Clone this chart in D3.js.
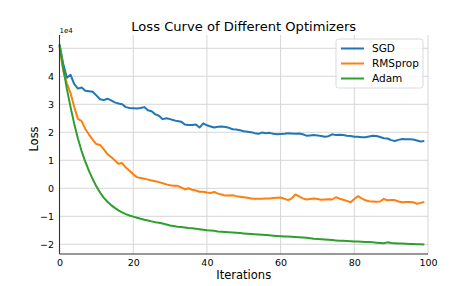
<!DOCTYPE html>
<html>
<head>
<meta charset="utf-8">
<script src="https://cdn.jsdelivr.net/npm/d3@7"></script>
<style>
  body { margin: 0; background: #fff; }
  svg text { font-family: "DejaVu Sans", sans-serif; fill: #000; }
</style>
</head>
<body>
<div id="chart"></div>
<script>
// loss values in units of 1e4, one per iteration (0..99)
let iterations = d3.range(0, 100)
let sgd = [5.15,4.45,3.95,4.05,3.72,3.56,3.60,3.48,3.47,3.45,
  3.32,3.18,3.15,3.20,3.14,3.07,3.03,3.00,2.90,2.87,
  2.86,2.85,2.87,2.90,2.79,2.75,2.64,2.59,2.47,2.50,
  2.47,2.43,2.40,2.38,2.28,2.26,2.26,2.28,2.17,2.32,
  2.25,2.21,2.17,2.20,2.21,2.19,2.16,2.11,2.10,2.07,
  2.04,2.02,2.00,1.97,1.95,1.99,1.97,1.98,1.95,1.93,
  1.94,1.95,1.97,1.96,1.95,1.96,1.93,1.88,1.89,1.90,
  1.89,1.87,1.84,1.86,1.93,1.90,1.91,1.90,1.88,1.87,
  1.84,1.84,1.82,1.82,1.85,1.88,1.87,1.83,1.79,1.78,
  1.72,1.69,1.73,1.76,1.75,1.75,1.74,1.71,1.67,1.69]
let rmsprop = [5.10,4.20,3.75,3.40,2.90,2.48,2.40,2.12,1.92,1.74,
  1.58,1.55,1.40,1.22,1.12,1.00,0.88,0.90,0.74,0.63,
  0.50,0.40,0.37,0.34,0.31,0.28,0.25,0.22,0.18,0.14,
  0.11,0.09,0.09,0.03,-0.04,0.00,-0.05,-0.08,-0.12,-0.12,
  -0.15,-0.17,-0.13,-0.19,-0.22,-0.26,-0.26,-0.25,-0.28,-0.30,
  -0.32,-0.34,-0.36,-0.37,-0.37,-0.37,-0.36,-0.36,-0.35,-0.34,
  -0.33,-0.37,-0.42,-0.36,-0.22,-0.29,-0.36,-0.40,-0.38,-0.36,
  -0.38,-0.41,-0.40,-0.39,-0.40,-0.32,-0.37,-0.41,-0.45,-0.50,
  -0.38,-0.28,-0.36,-0.43,-0.46,-0.47,-0.48,-0.47,-0.38,-0.43,
  -0.42,-0.42,-0.47,-0.50,-0.49,-0.49,-0.50,-0.55,-0.52,-0.49]
let adam = [5.10,4.30,3.55,2.90,2.30,1.78,1.33,0.95,0.62,0.33,
  0.07,-0.15,-0.33,-0.48,-0.60,-0.70,-0.79,-0.86,-0.92,-0.97,
  -1.01,-1.05,-1.09,-1.12,-1.15,-1.18,-1.21,-1.23,-1.26,-1.29,
  -1.33,-1.35,-1.37,-1.38,-1.40,-1.42,-1.43,-1.44,-1.46,-1.48,
  -1.50,-1.51,-1.52,-1.54,-1.55,-1.56,-1.57,-1.58,-1.59,-1.60,
  -1.61,-1.62,-1.63,-1.64,-1.65,-1.66,-1.67,-1.68,-1.69,-1.70,
  -1.71,-1.72,-1.72,-1.73,-1.74,-1.75,-1.76,-1.77,-1.78,-1.80,
  -1.81,-1.82,-1.83,-1.84,-1.85,-1.86,-1.87,-1.87,-1.88,-1.89,
  -1.90,-1.90,-1.91,-1.92,-1.92,-1.93,-1.94,-1.95,-1.96,-1.93,
  -1.95,-1.96,-1.97,-1.97,-1.98,-1.99,-1.99,-2.00,-2.00,-2.01]
let names = ['SGD','RMSprop','Adam']
let colors = ['#1f77b4','#ff7f0e','#2ca02c']
let xTicks = [0,20,40,60,80,100]
let yTicks = [-2,-1,0,1,2,3,4,5]

let w=476, h=286
let pLeft=59.5, pRight=428, pTop=35, pBottom=254

let svg=d3.select('#chart').append('svg').attr('width',w).attr('height',h)

let xScale=d3.scaleLinear().domain([0,100]).range([pLeft,pRight])
let yScale=d3.scaleLinear().domain([-2.346,5.475]).range([pBottom,pTop])

// grid
svg.append('g').selectAll('line').data(xTicks).enter().append('line')
  .attr('x1',d=>xScale(d)).attr('x2',d=>xScale(d)).attr('y1',pTop).attr('y2',pBottom)
  .attr('stroke','#d6d6d6').attr('stroke-width',1)
svg.append('g').selectAll('line').data(yTicks).enter().append('line')
  .attr('x1',pLeft).attr('x2',pRight).attr('y1',d=>yScale(d)).attr('y2',d=>yScale(d))
  .attr('stroke','#d6d6d6').attr('stroke-width',1)

// lines
let series=[sgd,rmsprop,adam]
let line=d3.line().x((d,i)=>xScale(iterations[i])).y(d=>yScale(d))
svg.append('g').selectAll('path').data(series).enter().append('path')
  .attr('d',d=>line(d)).attr('fill','none')
  .attr('stroke',(d,i)=>colors[i]).attr('stroke-width',2).attr('stroke-linejoin','round')

// axes
let xAxis=d3.axisBottom(xScale).tickValues(xTicks).tickSize(0).tickPadding(5)
let yAxis=d3.axisLeft(yScale).tickValues(yTicks).tickSize(0).tickPadding(5.5)
let gx=svg.append('g').attr('transform','translate(0,'+pBottom+')').call(xAxis)
let gy=svg.append('g').attr('transform','translate('+pLeft+',0)').call(yAxis)
gx.select('.domain').remove()
gy.select('.domain').remove()
svg.selectAll('.tick text').style('font-size','9.5px').attr('fill','#000')
  .style('font-family','"DejaVu Sans", sans-serif')

// spines
svg.append('line').attr('x1',pLeft).attr('x2',pLeft).attr('y1',pTop).attr('y2',pBottom).attr('stroke','#333').attr('stroke-width',1.1)
svg.append('line').attr('x1',pLeft).attr('x2',pRight).attr('y1',pBottom).attr('y2',pBottom).attr('stroke','#333').attr('stroke-width',1.1)

// texts
svg.append('text').text('1e4').attr('x',pLeft).attr('y',33).style('font-size','7px')
svg.append('text').text('Loss Curve of Different Optimizers').attr('x',(pLeft+pRight)/2).attr('y',30.7)
  .attr('text-anchor','middle').style('font-size','13.1px')
svg.append('text').text('Iterations').attr('x',(pLeft+pRight)/2).attr('y',278.7)
  .attr('text-anchor','middle').style('font-size','11.5px')
svg.append('text').text('Loss').attr('transform','translate(37.5,139) rotate(-90)')
  .attr('text-anchor','middle').style('font-size','11.5px')

// legend
let lg=svg.append('g')
lg.append('rect').attr('x',336).attr('y',39).attr('width',87).attr('height',49).attr('rx',2.5)
  .attr('fill','#fff').attr('fill-opacity',0.8).attr('stroke','#d0d0d0').attr('stroke-width',0.8)
let items=lg.selectAll('.item').data(names).enter().append('g').attr('class','item')
  .attr('transform',(d,i)=>'translate(0,'+(48.5+i*15)+')')
items.append('line').attr('x1',341).attr('x2',364).attr('y1',0).attr('y2',0)
  .attr('stroke',(d,i)=>colors[i]).attr('stroke-width',2)
items.append('text').text(d=>d).attr('x',372).attr('y',3.8).style('font-size','10.5px')
</script>
</body>
</html>
